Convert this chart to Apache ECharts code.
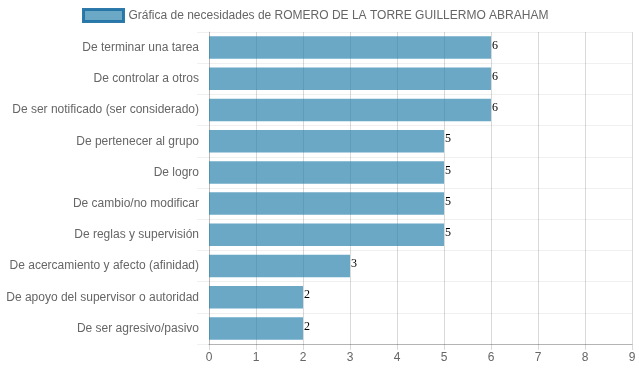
<!DOCTYPE html>
<html><head><meta charset="utf-8">
<script src="https://cdn.jsdelivr.net/npm/echarts@6/dist/echarts.min.js"></script>
<style>html,body{margin:0;padding:0;background:#fff}#c{width:639px;height:372px}</style>
</head><body><div id="c"></div>
<script>
const seriesName = 'Gráfica de necesidades de ROMERO DE LA TORRE GUILLERMO ABRAHAM';
const categories = [
  'De terminar una tarea',
  'De controlar a otros',
  'De ser notificado (ser considerado)',
  'De pertenecer al grupo',
  'De logro',
  'De cambio/no modificar',
  'De reglas y supervisión',
  'De acercamiento y afecto (afinidad)',
  'De apoyo del supervisor o autoridad',
  'De ser agresivo/pasivo'
];
const values = [6, 6, 6, 5, 5, 5, 5, 3, 2, 2];
const xTicks = [0, 9, 1];

const chart = echarts.init(document.getElementById('c'), null, {renderer: 'canvas'});
chart.setOption({
  animation: false,
  textStyle: {fontFamily: 'Liberation Sans, Arial, sans-serif'},
  legend: {
    top: 3, left: 77,
    itemWidth: 40, itemHeight: 12, itemGap: 10,
    textStyle: {color: '#666', fontSize: 12},
    itemStyle: {borderColor: 'rgba(35,115,165,0.95)', borderWidth: 3},
    data: [{name: seriesName, icon: 'rect'}]
  },
  grid: {left: 209, right: 7, top: 32, bottom: 28, containLabel: false},
  xAxis: {
    type: 'value', min: xTicks[0], max: xTicks[1], interval: xTicks[2],
    axisLine: {show: true, lineStyle: {color: 'rgba(0,0,0,0.25)'}},
    axisTick: {show: true, length: 6, lineStyle: {color: 'rgba(0,0,0,0.15)'}},
    axisLabel: {color: '#666', fontSize: 12, margin: 8},
    splitLine: {show: true, lineStyle: {color: 'rgba(0,0,0,0.15)'}}
  },
  yAxis: {
    type: 'category', inverse: true, data: categories,
    axisLine: {show: true, lineStyle: {color: 'rgba(0,0,0,0.15)'}},
    axisTick: {show: true, length: 12, lineStyle: {color: 'rgba(0,0,0,0.06)'}},
    axisLabel: {color: '#666', fontSize: 12, margin: 10},
    splitLine: {show: true, lineStyle: {color: 'rgba(0,0,0,0.06)'}}
  },
  series: [{
    name: seriesName, type: 'bar', data: values,
    barCategoryGap: '28%',
    itemStyle: {color: 'rgba(35,125,170,0.67)'},
    label: {
      show: true, position: 'right', distance: 1, offset: [0, -2],
      color: '#000', fontSize: 12, fontFamily: 'Liberation Serif, Times New Roman, serif'
    }
  }]
});
</script>
</body></html>
